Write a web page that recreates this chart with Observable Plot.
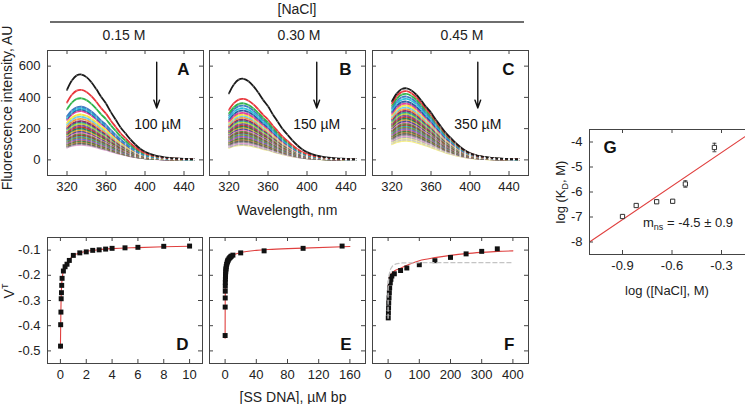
<!DOCTYPE html>
<html><head><meta charset="utf-8">
<script src="https://cdn.jsdelivr.net/npm/d3@7"></script>
<script src="https://cdn.jsdelivr.net/npm/@observablehq/plot@0.6"></script>
<style>
body{margin:0;background:#fff;}
#root{position:relative;width:745px;height:404px;overflow:hidden;font-family:"Liberation Sans",Arial,sans-serif;color:#222;background:#fff;}
.t{position:absolute;white-space:nowrap;transform:translate(-50%,-50%);font-size:14px;line-height:1;}
.rot{transform:translate(-50%,-50%) rotate(-90deg);}
.p{position:absolute;}
sub,sup{font-size:9px;line-height:0;}
</style></head><body><div id="root"></div>
<script>
// ---------- data ----------
const wavelengths = [320,325,330,335,340,345,350,355,360,365,370,375,380,385,390,395,400,405,410,415,420,425,430,435,440,445,450];
const shape = [0.82,0.93,0.99,1.00,0.97,0.91,0.83,0.74,0.66,0.56,0.47,0.38,0.31,0.24,0.18,0.13,0.095,0.07,0.052,0.04,0.03,0.023,0.018,0.015,0.012,0.01,0.009];
const peaksA = [546,448,394,340,330,322,312,290,276,262,248,240,230,220,210,200,190,182,174,166,158,150,142,135,128,121,114,108,102,96];
const peaksB = [519,390,362,347,330,315,300,290,280,270,258,250,240,230,222,214,206,198,190,182,175,168,160,152,145,138,130,122,115,108,100,94];
const peaksC = [458,440,422,405,390,373,360,348,336,325,314,304,294,284,275,266,257,248,240,232,224,216,208,200,192,184,176,168,160,152,145,138,130,122];
const palette = ["#1a1a1a","#e8353b","#2fb44a","#3d7cc4","#27bfd9","#2c5aa0","#e0409a","#f5e63a","#6ccbe8","#f39a3c","#8a2a6a","#2a9d8f","#b5d334","#7a4fa0","#c2362f","#1f7f5a","#d8a531","#4a4a9a","#e676b0","#5a8f3a","#a03a3a","#3aa0a0","#8a8a2a","#6a6ad0","#c06080","#408040","#b08040","#606060","#909090","#e0a0d0","#b0b0b0","#f0e890","#c8c8c8","#f5ee80"];
const saltLabels = ["0.15 M","0.30 M","0.45 M"];
const titrantLabels = ["100 µM","150 µM","350 µM"];
const panelLetters = ["A","B","C","D","E","F","G"];
const specXTicks = [320,360,400,440];
const specYTicks = [0,200,400,600];
const arrowX = [412,410,408], arrowTop = [625,625,625], arrowTip = [332,332,332];
const concLabelX = [413,410,408], concLabelY = [229,229,229];

const vYTicks = [-0.1,-0.2,-0.3,-0.4,-0.5];
const dXTicks = [0,2,4,6,8,10];
const dX = [0.01,0.02,0.04,0.06,0.08,0.1,0.13,0.23,0.36,0.51,0.69,1.0,1.5,2,2.5,3,3.5,4,5,6,8,10];
const dY = [-0.481,-0.396,-0.346,-0.293,-0.269,-0.240,-0.212,-0.183,-0.166,-0.156,-0.141,-0.121,-0.111,-0.107,-0.101,-0.099,-0.096,-0.093,-0.091,-0.089,-0.085,-0.084];
const dFitX = [0,0.02,0.05,0.1,0.2,0.3,0.5,0.75,1,1.5,2,3,4,6,8,10];
const dFitY = [-0.49,-0.40,-0.30,-0.235,-0.19,-0.17,-0.150,-0.134,-0.122,-0.111,-0.105,-0.098,-0.094,-0.090,-0.087,-0.085];

const eXTicks = [0,40,80,120,160];
const eX = [0.05,0.1,0.15,0.2,0.25,0.3,0.4,0.5,0.6,0.8,1,1.2,1.5,2,2.5,3,3.5,4,5,6,7,8,10,20,50,100,150];
const eY = [-0.439,-0.326,-0.290,-0.263,-0.243,-0.228,-0.215,-0.205,-0.196,-0.186,-0.178,-0.172,-0.165,-0.157,-0.151,-0.146,-0.142,-0.139,-0.134,-0.130,-0.127,-0.124,-0.120,-0.111,-0.103,-0.093,-0.084];
const eFitX = [0,0.1,0.3,0.6,1,2,3,5,8,12,20,40,60,100,160];
const eFitY = [-0.45,-0.33,-0.23,-0.195,-0.178,-0.157,-0.146,-0.134,-0.124,-0.117,-0.110,-0.101,-0.097,-0.092,-0.086];

const fXTicks = [0,100,200,300,400];
const fX = [0.5,1,1.5,2,3,4,5,7,9,12,20,40,60,100,150,200,250,300,350];
const fY = [-0.369,-0.349,-0.329,-0.309,-0.289,-0.269,-0.250,-0.230,-0.216,-0.203,-0.194,-0.181,-0.171,-0.158,-0.142,-0.129,-0.115,-0.105,-0.095];
const fFitX = [0,1,3,6,10,20,40,70,100,150,200,250,300,350,400];
const fFitY = [-0.30,-0.24,-0.215,-0.203,-0.195,-0.183,-0.172,-0.155,-0.142,-0.130,-0.121,-0.114,-0.109,-0.105,-0.103];
const fDashX = [0,0,3,8,15,25,45,100,400];
const fDashY = [-0.37,-0.25,-0.20,-0.175,-0.162,-0.155,-0.151,-0.150,-0.150];

const gXTicks = [-0.9,-0.6,-0.3];
const gYTicks = [-4,-5,-6,-7,-8];
const gX = [-0.9,-0.817,-0.693,-0.596,-0.519,-0.343];
const gY = [-6.98,-6.54,-6.39,-6.37,-5.68,-4.22];
const gErr = [0.05,0.05,0.06,0.07,0.13,0.17];
const gFitX = [-1.1,-0.1];
const gFitY = [-8.0,-3.53];

// ---------- helpers ----------
const root = document.getElementById("root");
const FONT = '"Liberation Sans", Arial, sans-serif';
const FRAME = "#444";
function addText(html, cx, cy, cls = "", size = 14) {
  const d = document.createElement("div");
  d.className = "t " + cls;
  d.style.left = cx + "px"; d.style.top = cy + "px"; d.style.fontSize = size + "px";
  d.innerHTML = html;
  root.appendChild(d);
}
function panel({left, top, w, h, xDomain, yDomain, xTicks, yTicks, showX = true, showY = true, marks, letter, letterAnchor}) {
  const mL = 45, mR = 5, mT = 5, mB = 24;
  const corner = letterAnchor === "top-right" ? {dx: -14, dy: 12, lineAnchor: "top", textAnchor: "end"}
    : letterAnchor === "bottom-right" ? {dx: -14, dy: -14, lineAnchor: "bottom", textAnchor: "end"}
    : {dx: 14, dy: 11, lineAnchor: "top", textAnchor: "start"};
  const fig = Plot.plot({
    width: w + mL + mR, height: h + mT + mB,
    marginLeft: mL, marginRight: mR, marginTop: mT, marginBottom: mB,
    x: {domain: xDomain, label: null, ...(showX ? {} : {axis: null})},
    y: {domain: yDomain, label: null, ...(showY ? {} : {axis: null})},
    color: {type: "identity"},
    style: {fontFamily: FONT, fontSize: "13px", color: "#222", background: "transparent", overflow: "visible"},
    marks: [
      ...marks,
      Plot.frame({stroke: FRAME, strokeWidth: 1}),
      Plot.ruleX(xTicks, {x: d => d, insetTop: h - 4, stroke: FRAME}),
      Plot.ruleX(xTicks, {x: d => d, insetBottom: h - 4, stroke: FRAME}),
      Plot.ruleY(yTicks, {y: d => d, insetRight: w - 4, stroke: FRAME}),
      Plot.ruleY(yTicks, {y: d => d, insetLeft: w - 4, stroke: FRAME}),
      showX ? Plot.axisX(xTicks, {tickSize: 0, tickPadding: 6, fontSize: 13, tickFormat: d => String(d)}) : null,
      showY ? Plot.axisY(yTicks, {tickSize: 0, tickPadding: 7, fontSize: 13, tickFormat: d => String(d)}) : null,
      Plot.text([letter], {frameAnchor: letterAnchor, text: d => d, fontSize: 17, fontWeight: "bold", fill: "#111", ...corner})
    ]
  });
  fig.classList.add("p");
  fig.style.left = (left - mL) + "px";
  fig.style.top = (top - mT) + "px";
  root.appendChild(fig);
}

// ---------- spectra panels ----------
const specPeaks = [peaksA, peaksB, peaksC];
const specLeft = [47, 209, 372];
specPeaks.forEach((peaks, p) => {
  const rows = [];
  for (let k = peaks.length - 1; k >= 0; k--) {
    wavelengths.forEach((w, j) => rows.push({w, v: peaks[k] * shape[j], k, c: palette[k % palette.length]}));
  }
  panel({
    left: specLeft[p], top: 50, w: 156, h: 125,
    xDomain: [300, 460], yDomain: [-100, 700],
    xTicks: specXTicks, yTicks: specYTicks, showY: p === 0,
    letter: panelLetters[p], letterAnchor: "top-right",
    marks: [
      Plot.line(rows, {x: "w", y: "v", z: "k", stroke: "c", strokeWidth: 1.8, curve: "catmull-rom"}),
      Plot.dot(rows, {x: "w", y: "v", r: 0.8, fill: "white", fillOpacity: 0.3, stroke: null}),
      Plot.arrow([p], {x1: i => arrowX[i], x2: i => arrowX[i], y1: i => arrowTop[i], y2: i => arrowTip[i], stroke: "#111", strokeWidth: 1.4, headLength: 9, headAngle: 40}),
      Plot.text([p], {x: i => concLabelX[i], y: i => concLabelY[i], text: i => titrantLabels[i], fontSize: 14, fill: "#111"})
    ]
  });
});

// ---------- titration panels ----------
const fitColor = "#e0403f";
const toRows = (xs, ys) => xs.map((x, i) => ({x, y: ys[i]}));
panel({
  left: 47, top: 236.5, w: 155, h: 126,
  xDomain: [-1, 11], yDomain: [-0.55, -0.05], xTicks: dXTicks, yTicks: vYTicks,
  letter: "D", letterAnchor: "bottom-right",
  marks: [
    Plot.line(toRows(dFitX, dFitY), {x: "x", y: "y", stroke: fitColor, strokeWidth: 1.1, curve: "monotone-x"}),
    Plot.dot(toRows(dX, dY), {x: "x", y: "y", symbol: "square", r: 2.8, fill: "#111"})
  ]
});
panel({
  left: 209, top: 236.5, w: 156, h: 126,
  xDomain: [-20, 180], yDomain: [-0.55, -0.05], xTicks: eXTicks, yTicks: vYTicks, showY: false,
  letter: "E", letterAnchor: "bottom-right",
  marks: [
    Plot.line(toRows(eFitX, eFitY), {x: "x", y: "y", stroke: fitColor, strokeWidth: 1.1, curve: "monotone-x"}),
    Plot.dot(toRows(eX, eY), {x: "x", y: "y", symbol: "square", r: 2.8, fill: "#111"})
  ]
});
panel({
  left: 372, top: 236.5, w: 156, h: 126,
  xDomain: [-50, 450], yDomain: [-0.55, -0.05], xTicks: fXTicks, yTicks: vYTicks, showY: false,
  letter: "F", letterAnchor: "bottom-right",
  marks: [
    Plot.line(toRows(fFitX, fFitY), {x: "x", y: "y", stroke: fitColor, strokeWidth: 1.1, curve: "monotone-x"}),
    Plot.dot(toRows(fX, fY), {x: "x", y: "y", symbol: "square", r: 2.8, fill: "#111"}),
    Plot.line(toRows(fDashX, fDashY), {x: "x", y: "y", stroke: "#c4c4c4", strokeWidth: 1.3, strokeDasharray: "4,3", curve: "linear"})
  ]
});

// ---------- G panel ----------
const gRows = gX.map((x, i) => ({x, y: gY[i], e: gErr[i]}));
panel({
  left: 589, top: 129, w: 165, h: 125,
  xDomain: [-1.1, -0.1], yDomain: [-8.5, -3.5], xTicks: gXTicks, yTicks: gYTicks,
  letter: "G", letterAnchor: "top-left",
  marks: [
    Plot.line(toRows(gFitX, gFitY), {x: "x", y: "y", stroke: fitColor, strokeWidth: 1.1}),
    Plot.ruleX(gRows, {x: "x", y1: d => d.y - d.e, y2: d => d.y + d.e, stroke: "#333", strokeWidth: 0.9}),
    Plot.link(gRows, {x1: d => d.x - 0.012, x2: d => d.x + 0.012, y1: d => d.y + d.e, y2: d => d.y + d.e, stroke: "#333", strokeWidth: 0.9}),
    Plot.link(gRows, {x1: d => d.x - 0.012, x2: d => d.x + 0.012, y1: d => d.y - d.e, y2: d => d.y - d.e, stroke: "#333", strokeWidth: 0.9}),
    Plot.dot(gRows, {x: "x", y: "y", symbol: "square", r: 2.4, fill: "white", stroke: "#333", strokeWidth: 1})
  ]
});

// ---------- text ----------
addText("[NaCl]", 297, 9, "", 14);
const bar = document.createElement("div");
bar.style.cssText = "position:absolute;left:50px;top:21px;width:474px;height:2px;background:#6e6e6e;";
root.appendChild(bar);
addText(saltLabels[0], 124, 35, "", 14);
addText(saltLabels[1], 299, 35, "", 14);
addText(saltLabels[2], 462, 35, "", 14);
addText("Fluorescence intensity, AU", 7, 108, "rot", 14);
addText("Wavelength, nm", 287, 210, "", 14);
addText("V<sup>T</sup>", 9, 291, "rot", 14);
addText("[SS DNA], µM bp", 293, 397, "", 14);
addText("log (K<sub>D</sub>, M)", 560, 192, "rot", 13);
addText("log ([NaCl], M)", 667, 290, "", 13);
addText("m<sub>ns</sub> = -4.5 ± 0.9", 688, 222, "", 13);
</script></body></html>
